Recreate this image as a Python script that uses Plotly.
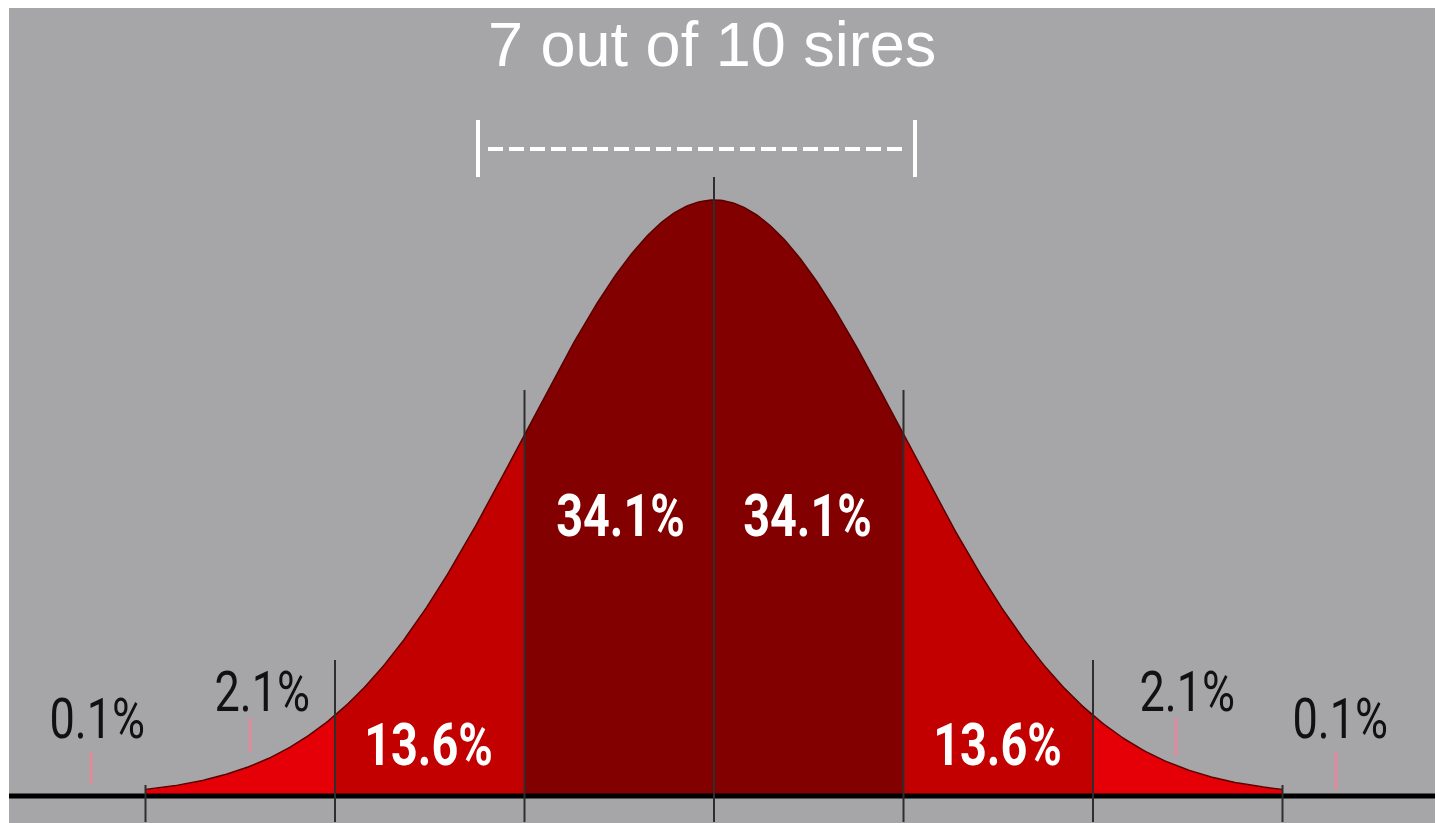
import numpy as np
import plotly.graph_objects as go

# ---- data ----
sigma_bounds = [-3, -2, -1, 0, 1, 2, 3]
band_labels = ["2.1%", "13.6%", "34.1%", "34.1%", "13.6%", "2.1%"]
outer_labels = ["0.1%", "0.1%"]
title_text = "7 out of 10 sires"

band_colors = ["#e50008", "#c20000", "#820000", "#820000", "#c20000", "#e50008"]

def pdf(z):
    return np.exp(-0.5 * np.asarray(z) ** 2)

# pixel-calibrated axis ranges (page body adds an 8px offset)
OFF = 8
X0, SX = 714.0 - OFF, 189.5
Y0, SY = 796.0 - OFF, 596.0
W, H = 1443, 823
ML, MT = 1, 0
xr = [(ML - X0) / SX, (W - X0) / SX]
yr = [(Y0 - H) / SY, (Y0 - MT) / SY]

def px_x(p):
    return (p - OFF - X0) / SX

def px_y(p):
    return (Y0 - (p - OFF)) / SY

fig = go.Figure()

# filled bands
for i in range(len(sigma_bounds) - 1):
    a, b = sigma_bounds[i], sigma_bounds[i + 1]
    zz = np.linspace(a, b, 150)
    xs = np.concatenate([[a], zz, [b]])
    ys = np.concatenate([[0], pdf(zz), [0]])
    fig.add_trace(go.Scatter(x=xs, y=ys, mode="lines", fill="toself",
                             fillcolor=band_colors[i], line=dict(width=0),
                             hoverinfo="skip", showlegend=False))

# curve outline
zc = np.linspace(sigma_bounds[0], sigma_bounds[-1], 600)
fig.add_trace(go.Scatter(x=zc, y=pdf(zc), mode="lines",
                         line=dict(color="#5a0000", width=1.5),
                         hoverinfo="skip", showlegend=False))

shapes = []
# baseline
shapes.append(dict(type="line", xref="x", yref="y", x0=xr[0], x1=xr[1], y0=0, y1=0,
                   line=dict(color="#000000", width=5)))
# vertical sigma lines
tops = {0: px_y(177), 1: px_y(390), 2: px_y(660), 3: px_y(785)}
for s in sigma_bounds:
    shapes.append(dict(type="line", xref="x", yref="y", x0=s, x1=s,
                       y0=px_y(822), y1=tops[abs(s)],
                       line=dict(color="#2e2e2e", width=2)))
# small pink ticks under the outside labels
ticks = [(250, 718, 752), (91, 752, 784), (1176, 718, 756), (1336, 752, 790)]
for x, y0, y1 in ticks:
    shapes.append(dict(type="line", xref="x", yref="y", x0=px_x(x), x1=px_x(x),
                       y0=px_y(y1), y1=px_y(y0),
                       line=dict(color="#de8c9c", width=3)))
# bracket
for bx in (478, 915):
    shapes.append(dict(type="line", xref="x", yref="y", x0=px_x(bx), x1=px_x(bx),
                       y0=px_y(177), y1=px_y(120),
                       line=dict(color="#ffffff", width=4)))
shapes.append(dict(type="line", xref="x", yref="y",
                   x0=px_x(488), x1=px_x(905), y0=px_y(149), y1=px_y(149),
                   line=dict(color="#ffffff", width=4, dash="15px,6px")))

font_pct = "Roboto, sans-serif"
annots = []
# band labels (white bold)
inner_pos = [(428, 744), (620, 515), (807, 515), (997, 744)]
for (x, y), lab in zip(inner_pos, band_labels[1:5]):
    annots.append(dict(x=px_x(x), y=px_y(y), xref="x", yref="y", text=lab, showarrow=False,
                       font=dict(family=font_pct, size=60, color="white", weight="bold")))
# outer labels (black)
outer_pos = [(262, 692), (1187, 692)]
for (x, y), lab in zip(outer_pos, [band_labels[0], band_labels[5]]):
    annots.append(dict(x=px_x(x), y=px_y(y), xref="x", yref="y", text=lab, showarrow=False,
                       font=dict(family=font_pct, size=55, color="#111111")))
far_pos = [(97, 719), (1340, 719)]
for (x, y), lab in zip(far_pos, outer_labels):
    annots.append(dict(x=px_x(x), y=px_y(y), xref="x", yref="y", text=lab, showarrow=False,
                       font=dict(family=font_pct, size=55, color="#111111")))
# title
annots.append(dict(x=px_x(712), y=px_y(44), xref="x", yref="y",
                   text=title_text, showarrow=False,
                   font=dict(family="Liberation Sans, Arial, sans-serif", size=63, color="white")))

fig.update_layout(
    width=W, height=H,
    margin=dict(l=ML, r=0, t=MT, b=0),
    paper_bgcolor="white", plot_bgcolor="#a6a6a8",
    xaxis=dict(range=xr, visible=False, fixedrange=True),
    yaxis=dict(range=yr, visible=False, fixedrange=True),
    shapes=shapes, annotations=annots,
)

# condense the percentage labels horizontally (reference uses a condensed face)
post_js = """
var gd = document.getElementById('{plot_id}');
function condense() {
  gd.querySelectorAll('text.annotation-text').forEach(function (t) {
    if (t.textContent.indexOf('%') >= 0) {
      var fw = String(t.style.fontWeight || '');
      var bold = fw.indexOf('bold') >= 0 || fw === '700';
      t.style.transformBox = 'fill-box';
      t.style.transformOrigin = 'center';
      t.style.transform = bold ? 'scaleX(0.78)' : 'scaleX(0.82)';
    }
  });
}
condense();
gd.on && gd.on('plotly_afterplot', condense);
"""

fig.write_html("out.html", post_script=post_js)
